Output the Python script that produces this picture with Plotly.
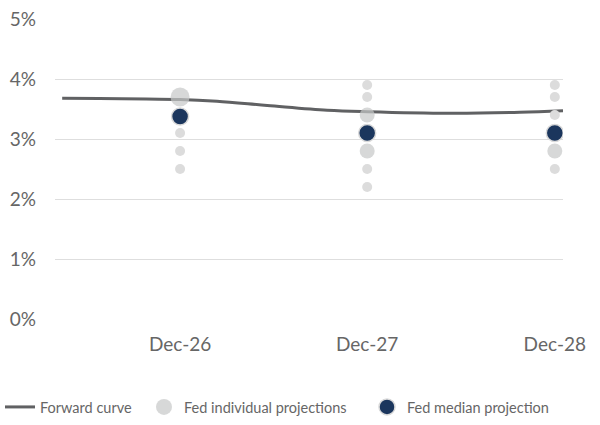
import plotly.graph_objects as go

# forward curve (dates, %)
curve_dates = ["2026-05-15", "2026-07-26", "2026-10-26", "2026-12-31", "2027-03-13",
               "2027-06-19", "2027-10-14", "2028-01-01", "2028-06-09", "2028-10-24",
               "2029-01-16"]
curve_rates = [3.68, 3.675, 3.665, 3.66, 3.63, 3.56, 3.48, 3.455, 3.43, 3.445, 3.47]

# Fed dot plot, individual projections: several participants (bigger, darker dots)
multi_dates = ["2026-12-31", "2027-12-31", "2027-12-31", "2028-12-31"]
multi_rates = [3.7, 3.4, 2.8, 2.8]
multi_count = [3, 2, 2, 2]

# single participant dots
single_dates = ["2026-12-31"] * 3 + ["2027-12-31"] * 4 + ["2028-12-31"] * 4
single_rates = [3.1, 2.8, 2.5,
                3.9, 3.7, 2.5, 2.2,
                3.9, 3.7, 3.4, 2.5]

median_dates = ["2026-12-31", "2027-12-31", "2028-12-31"]
median_rates = [3.375, 3.1, 3.1]

tick_dates = ["2026-12-31", "2027-12-31", "2028-12-31"]
tick_text = ["Dec-26", "Dec-27", "Dec-28"]
y_ticks = [0, 1, 2, 3, 4, 5]

SIZES = {2: 15, 3: 19}

fig = go.Figure()

fig.add_trace(go.Scatter(
    x=curve_dates, y=curve_rates,
    mode="lines", name="Forward curve", legend="legend",
    line=dict(color="#606163", width=3, shape="spline"),
))

fig.add_trace(go.Scatter(
    x=single_dates, y=single_rates,
    mode="markers", showlegend=False, name="single",
    marker=dict(size=10, color="#dcdcdc", line=dict(width=0)),
))

fig.add_trace(go.Scatter(
    x=multi_dates, y=multi_rates,
    mode="markers", name="Fed individual projections", legend="legend2",
    marker=dict(size=[SIZES[c] for c in multi_count], color="#c6c8c8",
                line=dict(width=0)),
))

fig.add_trace(go.Scatter(
    x=median_dates, y=median_rates,
    mode="markers", name="Fed median projection", legend="legend3",
    marker=dict(size=17, color="#1b365d", line=dict(color="#d9d9d9", width=1.5)),
))

# one legend box per entry so each can sit where the reference has it
def legend_at(px):
    return dict(
        orientation="h", xref="container", yref="container",
        x=px / 600, xanchor="left", y=1 - 407 / 425, yanchor="middle",
        font=dict(size=14.5, color="#666666"), itemsizing="trace",
    )

fig.update_layout(
    width=600, height=425,
    margin=dict(l=55, r=37, t=19, b=106, autoexpand=False),
    plot_bgcolor="white", paper_bgcolor="white",
    font=dict(family="Lato", color="#666666"),
    showlegend=True,
    legend=legend_at(-10),
    legend2=legend_at(144),
    legend3=legend_at(367),
)

fig.update_xaxes(
    type="date", range=["2026-05-01", "2029-01-16"],
    tickvals=tick_dates, ticktext=tick_text,
    showgrid=False, zeroline=False, showline=False, automargin=False,
    tickfont=dict(size=19, color="#666666"),
    ticklabelstandoff=12,
)
fig.update_yaxes(
    range=[0, 5], tickvals=y_ticks, ticktext=[f"{v}%" for v in y_ticks],
    showgrid=True, gridcolor="#dedede", gridwidth=1,
    zeroline=False, showline=False, automargin=False,
    tickfont=dict(size=19, color="#666666"),
    ticklabelstandoff=18,
)

fig.write_html("out.html", config={"displayModeBar": False},
               post_script="document.body.style.margin='0';")
